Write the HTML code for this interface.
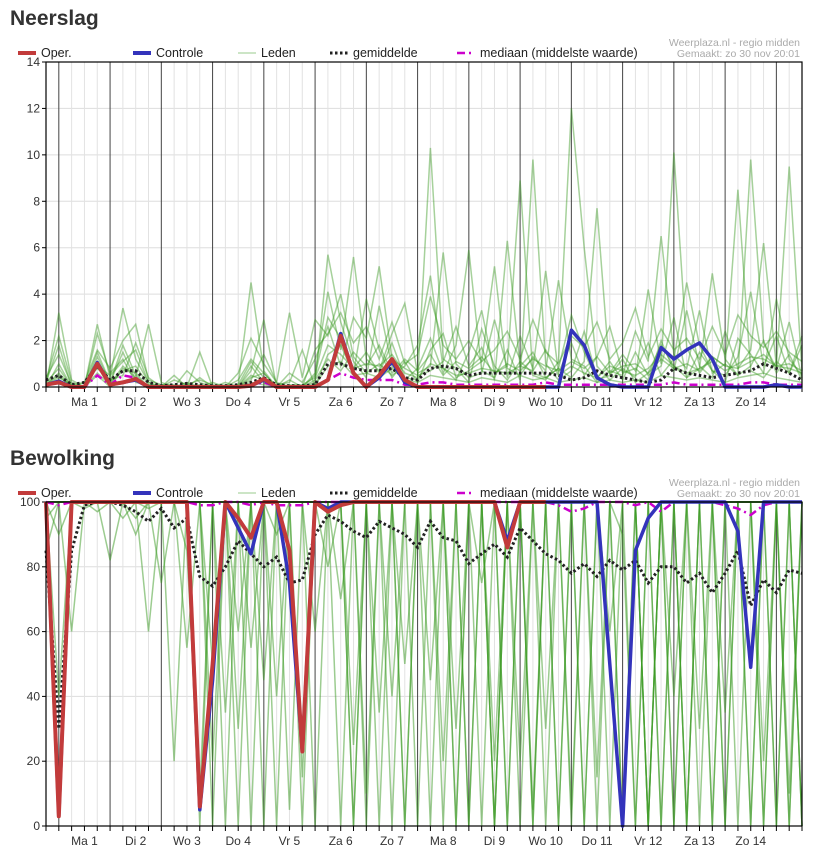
<!DOCTYPE html>
<html><head><meta charset="utf-8">
<style>
body{margin:0;background:#fff;width:817px;height:854px;overflow:hidden;font-family:"Liberation Sans",sans-serif}
h2{position:absolute;margin:0;font-size:21px;font-weight:bold;color:#333;left:10px}
svg{position:absolute;left:0}
</style></head><body>
<h2 style="top:7px">Neerslag</h2>
<h2 style="top:447px">Bewolking</h2>
<svg id="c1" width="817" height="430" style="top:0"></svg>
<svg id="c2" width="817" height="420" style="top:434px"></svg>
<script>
const dayLabels=["Ma 1","Di 2","Wo 3","Do 4","Vr 5","Za 6","Zo 7","Ma 8","Di 9","Wo 10","Do 11","Vr 12","Za 13","Zo 14"];
const rainTicks=[0,2,4,6,8,10,12,14];
const cloudTicks=[0,20,40,60,80,100];
const rainOper=[0.1,0.2,0,0,1.0,0.1,0.2,0.35,0,0,0,0,0,0,0,0,0.05,0.35,0,0,0,0,0.3,2.2,0.6,0,0.5,1.2,0.3,0,0,0,0,0,0,0,0,0,0,0];
const rainCtrl=[0.1,0.25,0,0,1.05,0.1,0.2,0.3,0,0,0,0,0,0,0,0,0.05,0.3,0,0,0,0,0.3,2.3,0.6,0,0.4,1.1,0.2,0,0,0,0,0,0,0,0,0,0,0,0,2.45,1.8,0.4,0.1,0,0,0,1.7,1.2,1.6,1.9,1.2,0,0,0,0,0.1,0,0];
const rainMean=[0.3,0.5,0.1,0.2,0.9,0.3,0.7,0.7,0.2,0.05,0.1,0.15,0.1,0.05,0.05,0.1,0.2,0.4,0.1,0.05,0.05,0.1,1.0,1.0,0.8,0.7,0.7,0.8,0.4,0.3,0.8,0.9,0.8,0.5,0.6,0.6,0.6,0.6,0.6,0.6,0.5,0.3,0.4,0.7,0.5,0.4,0.3,0.2,0.3,0.8,0.6,0.5,0.4,0.5,0.6,0.7,1.0,0.8,0.6,0.3];
const rainMedian=[0.1,0.2,0,0,0.5,0.1,0.5,0.4,0,0,0,0,0,0,0,0,0.1,0.2,0,0,0,0,0.3,0.6,0.4,0.3,0.3,0.3,0.1,0.1,0.2,0.2,0.1,0.1,0.1,0.1,0.1,0.1,0.1,0.2,0.1,0.1,0.1,0.1,0.1,0.1,0.1,0.1,0.1,0.2,0.1,0.1,0.1,0.1,0.1,0.2,0.2,0.1,0.1,0.1];
const rainM1=[0,3.2,0.3,0,1.5,0.2,1.8,0.5,0,0,0,0,0,0.2,0,0.3,1.2,0.6,0,0,0,0.5,3.0,2.1,0.8,1.5,0.6,1.9,0.4,0.3,10.3,1.2,0.8,0.2,2.5,0.9,0.3,1.1,0.6,0.4,0.8,3.1,1.5,0.3,0.5,1.2,0.2,0.6,1.8,0.9,0.4,1.5,0.7,0.2,2.1,1.4,0.6,3.8,1.2,0.5];
const rainM2=[0.2,1.8,0,0,2.7,0.4,3.4,1.2,0.2,0,0.5,0,1.5,0,0.1,0,0.3,1.4,0.2,0,0,0.2,5.7,2.8,1.1,0.4,3.5,0.9,0.3,0.8,2.1,0.6,1.8,5.9,0.7,0.4,1.6,0.3,9.8,1.0,0.3,0.7,2.4,0.4,1.1,0.3,1.5,0.5,0.9,3.0,0.4,0.8,4.9,1.2,0.5,0.9,2.0,0.6,1.4,0.3];
const rainM3=[0.1,0.5,0,0.2,1.6,0.8,2.0,2.7,0.3,0.1,0,0.2,0,0,0,0.1,4.5,0.7,0,0.3,0,0.6,4.1,1.6,5.6,1.2,0.7,2.3,3.6,0.6,0.9,5.8,1.0,0.4,0.6,2.9,0.8,0.5,1.3,0.7,4.6,1.2,0.9,0.2,0.7,0.5,2.4,1.1,6.5,1.4,0.8,3.3,0.6,1.0,0.5,9.8,1.9,0.8,2.8,0.4];
const rainM4=[0.3,2.2,0.2,0,0.6,0.1,0.9,0.4,2.7,0.2,0,0.1,0.3,0.1,0,0.6,2.1,1.0,0.2,3.2,0.4,2.9,2.2,4.0,1.3,0.6,1.0,0.5,0.9,1.8,4.8,0.8,0.3,1.5,3.3,0.6,0.9,8.9,0.5,0.3,1.1,12.0,6.0,0.9,0.3,0.8,0.4,4.2,1.0,10.1,1.7,0.6,1.3,0.9,8.5,0.7,0.4,1.1,0.6,2.2];
const rainM5=[0,1.0,0,0,2.3,0.6,1.2,0.2,0.1,0,0.3,0.1,0,0,0.2,0,0.9,0.2,0.1,0.2,1.6,0,1.4,1.8,0.6,3.8,1.6,0.4,1.1,0.2,1.6,2.3,0.4,0.7,1.1,5.2,0.4,2.2,0.8,5.0,0.6,1.9,0.5,1.3,2.6,0.6,0.8,0.3,2.0,0.7,3.3,0.9,0.4,2.4,0.8,1.6,6.2,0.9,9.5,0.7];
const rainM6=[0.1,0.4,0.1,0.2,0.8,0.3,0.5,1.9,0.4,0,0,0.7,0.2,0,0,0.1,1.1,0.4,0,0.6,0.2,1.2,2.6,0.9,3.0,2.1,5.2,1.2,0.8,0.5,0.7,1.1,2.6,0.9,1.7,0.3,6.3,0.9,1.5,0.4,0.8,0.4,1.1,7.7,0.6,1.4,0.7,1.9,0.5,1.2,4.5,1.8,0.7,0.5,1.3,4.1,0.9,2.2,0.6,1.8];
const rainM7=[0.2,0.8,0,0,1.1,0.2,1.5,0.3,0,0.1,0.1,0,0.1,0,0,0,0.5,0.3,0,0.1,0.1,0.4,1.8,1.4,0.8,1.0,0.9,1.4,0.6,0.4,1.0,0.8,0.5,0.6,0.8,0.7,0.6,0.9,0.7,1.6,0.5,0.9,0.6,0.4,0.9,0.7,0.5,0.8,1.4,0.9,0.6,0.8,1.1,0.7,1.0,1.3,1.2,0.9,0.8,0.6];
const rainM8=[0,0.3,0,0,0.5,0,0.8,0.6,0,0,0,0,0,0,0,0,0.2,0.1,0,0,0,0.1,0.9,1.1,0.5,0.6,0.4,0.8,0.3,0.2,0.5,0.4,0.3,0.2,0.4,0.3,0.2,0.5,0.3,0.4,0.2,0.3,0.4,0.2,0.3,0.2,0.3,0.2,0.5,0.4,0.3,0.4,0.3,0.2,0.4,0.5,0.6,0.4,0.3,0.2];
const rainM9=[0.4,1.4,0.1,0,0.9,0.5,1.1,1.6,0.2,0,0,0,0.4,0,0,0,0.7,2.9,0,0,0,1.6,2.3,3.2,1.9,2.6,1.2,2.8,1.0,1.4,3.9,1.8,1.2,2.0,1.1,1.6,2.4,1.2,2.9,1.5,1.0,2.2,1.7,2.8,1.2,1.9,3.4,1.3,2.5,1.6,2.1,1.2,2.6,1.4,3.1,2.2,1.7,2.4,1.5,1.1];
const rainM10=[0.1,0.6,0,0,1.3,0.2,0.7,0.9,0.1,0,0,0,0,0,0,0,0.4,0.6,0,0,0,0.3,1.2,0.7,1.5,0.9,1.8,0.6,1.2,0.7,1.4,0.5,1.1,0.8,1.3,0.6,1.0,0.7,1.2,0.9,0.7,1.1,0.8,1.3,0.6,0.9,1.0,0.6,1.2,0.8,1.0,0.7,1.3,0.9,0.8,1.1,1.4,0.9,1.0,0.7];
const cloudOper=[100,3,100,100,100,100,100,100,100,100,100,100,6,50,100,95,89,100,100,85,23,100,97,99,100,100,100,100,100,100,100,100,100,100,100,100,86,100,100,100];
const cloudCtrl=[100,3,100,100,100,100,100,100,100,100,100,100,5,45,100,92,84,100,100,75,23,100,98,100,100,100,100,100,100,100,100,100,100,100,100,100,88,100,100,100,100,100,100,100,50,0,85,95,100,100,100,100,100,100,91,49,100,100,100,100];
const cloudMean=[85,30,85,99,100,100,99,97,94,98,92,95,77,74,80,88,84,80,83,75,76,90,96,94,91,89,94,92,90,86,94,89,88,81,84,87,83,92,88,84,82,78,81,77,82,79,82,75,80,80,75,78,72,78,85,68,76,72,79,78];
const cloudMedian=[100,99,100,100,100,100,100,100,100,100,100,100,99,99,100,100,99,100,99,99,99,100,100,100,100,100,100,100,100,100,100,100,100,100,100,100,100,100,100,100,99,97,98,100,100,100,99,100,97,100,100,100,100,99,98,96,99,100,100,100];
const cloudM1=[100,40,100,98,100,100,95,100,60,100,100,85,10,100,100,30,100,100,90,100,15,100,100,70,100,100,0,100,100,100,45,100,100,0,100,100,100,20,100,100,100,5,100,100,60,100,100,0,100,100,100,30,100,100,0,100,100,100,10,100];
const cloudM2=[95,100,100,100,97,100,100,90,100,100,20,100,100,0,100,100,55,100,100,5,100,100,80,100,100,10,100,100,50,100,100,0,100,100,75,100,0,100,100,30,100,100,0,100,100,90,0,100,100,40,100,100,0,100,100,100,20,100,100,0];
const cloudM3=[100,100,60,100,100,100,100,100,100,75,100,100,100,100,35,100,100,0,100,100,100,60,100,100,25,100,100,100,0,100,100,100,30,100,100,0,100,100,100,0,100,100,100,15,100,100,100,0,100,100,0,100,100,35,100,100,0,100,100,100];
const cloudM4=[100,90,100,100,100,82,100,100,100,100,100,55,100,100,100,100,0,100,100,100,100,100,100,0,100,100,100,40,100,100,100,100,100,100,0,100,100,100,5,100,0,100,100,100,100,100,100,100,0,100,100,100,100,0,100,100,100,0,100,100];
const cloudM5=[100,100,100,100,100,100,100,100,98,100,100,100,100,50,100,0,100,100,100,100,0,100,100,100,100,100,100,100,100,0,100,100,100,100,100,20,100,100,0,100,100,100,100,100,0,100,100,100,100,0,100,100,0,100,100,100,100,100,0,100];
const cloudM6=[85,100,100,100,100,100,100,100,100,100,100,100,0,100,100,100,100,100,100,100,100,100,100,100,100,100,35,100,100,100,100,100,0,100,100,100,100,100,100,100,100,100,0,100,100,100,100,0,100,100,100,100,100,100,100,0,100,100,100,100];
const cloudM7=[100,100,100,100,100,100,100,100,100,100,100,100,100,100,100,60,100,100,0,100,100,100,100,100,0,100,100,100,100,100,0,100,100,100,100,100,100,0,100,100,100,100,100,100,100,0,100,100,100,100,0,100,100,100,100,100,100,100,100,0];
const cloudM8=[100,100,100,100,100,100,100,95,100,100,100,100,100,100,100,100,100,45,100,100,100,0,100,100,100,100,100,100,0,100,100,100,100,100,100,0,100,100,100,100,100,0,100,100,100,100,100,100,100,0,100,100,100,0,100,100,100,100,100,100];
const cloudM9=[100,100,100,100,100,100,100,100,100,100,100,100,100,20,100,100,100,100,40,100,100,100,100,100,100,0,100,100,100,100,100,20,100,100,100,100,0,100,100,100,0,100,100,100,100,100,0,100,100,100,100,0,100,100,100,100,0,100,100,100];
const cloudM10=[100,100,100,100,100,100,100,100,100,100,100,100,100,100,0,100,100,100,100,100,100,100,100,100,100,100,100,0,100,100,100,100,100,0,100,100,100,100,0,100,100,100,100,100,100,0,100,100,0,100,100,100,100,100,100,0,100,100,0,100];
const cloudM11=[100,100,100,100,100,100,100,100,100,100,100,100,100,100,100,100,100,100,100,100,100,100,100,100,0,100,100,100,100,100,100,100,0,100,100,100,100,100,100,100,100,100,100,0,100,100,100,100,100,100,0,100,100,100,100,100,100,100,100,0];
const cloudM12=[100,100,100,100,100,100,100,100,100,100,100,100,100,100,100,100,100,100,100,100,100,100,100,100,100,100,100,100,100,100,100,100,100,100,100,0,100,100,100,100,100,100,100,100,100,100,100,0,100,100,100,100,100,100,100,100,100,0,100,100];

const NS="http://www.w3.org/2000/svg";
const X0=46,X1=802,N=60,STEP=(X1-X0)/(N-1);
function xs(i){return X0+i*STEP;}
function mk(p,tag,a){const e=document.createElementNS(NS,tag);for(const k in a)e.setAttribute(k,a[k]);p.appendChild(e);return e;}
function pts(arr,ys){return arr.map((v,i)=>xs(i).toFixed(1)+","+ys(v).toFixed(1)).join(" ");}

function chart(svg,top,bottom,maxV,ticks,members,mean,median,ctrl,oper,credY,op){
  const ys=v=>bottom-(v/maxV)*(bottom-top);
  ticks.forEach(t=>{
    const l=mk(svg,"line",{x1:X0,x2:X1,y1:ys(t),y2:ys(t),stroke:"#ddd","stroke-width":1});
    
    
    const tx=mk(svg,"text",{x:X0-6,y:ys(t)+4,"text-anchor":"end","font-size":12,fill:"#333"});
    tx.textContent=t;
    
    
    mk(svg,"line",{x1:X0-4,x2:X0,y1:ys(t),y2:ys(t),stroke:"#000"});
  });
  for(let i=0;i<N;i++){
    const day=(i-1)%4===0;
    const l=mk(svg,"line",{x1:xs(i),x2:xs(i),y1:top,y2:bottom,stroke:day?"#444":"#e2e2e2","stroke-width":1});
    
    
    mk(svg,"line",{x1:xs(i),x2:xs(i),y1:bottom,y2:bottom+5,stroke:"#000"});
  }
  dayLabels.forEach((d,k)=>{
    const t=mk(svg,"text",{x:xs(1+4*k)+STEP*2,y:bottom+19,"text-anchor":"middle","font-size":12,fill:"#333"});
    t.textContent=d;
    
    
  });
  members.forEach(m=>{
    const p=mk(svg,"polyline",{points:pts(m,ys),fill:"none",stroke:"#3a9a22","stroke-opacity":op,"stroke-width":1.5});
    
    
  });
  let p=mk(svg,"polyline",{points:pts(median,ys),fill:"none",stroke:"#c0c","stroke-width":2.5,"stroke-dasharray":"8,4,2,4"});
  
  
  p=mk(svg,"polyline",{points:pts(mean,ys),fill:"none",stroke:"#222","stroke-width":3,"stroke-dasharray":"2.5,2.5"});
  
  
  p=mk(svg,"polyline",{points:pts(ctrl,ys),fill:"none",stroke:"#3333bb","stroke-width":3.5,"stroke-linejoin":"round"});
  
  
  p=mk(svg,"polyline",{points:pts(oper,ys),fill:"none",stroke:"#c23b3b","stroke-width":4,"stroke-linejoin":"round"});
  
  
  mk(svg,"rect",{x:X0,y:top,width:X1-X0,height:bottom-top,fill:"none",stroke:"#000","stroke-width":1.2});
  const ly=top-9;
  const leg=[["Oper.",18,{stroke:"#c23b3b","stroke-width":4}],["Controle",133,{stroke:"#3333bb","stroke-width":4}],["Leden",238,{stroke:"#3a9a22","stroke-opacity":0.35,"stroke-width":1.5}],["gemiddelde",330,{stroke:"#222","stroke-width":3,"stroke-dasharray":"2.5,2.5"}],["mediaan (middelste waarde)",457,{stroke:"#c0c","stroke-width":2.5,"stroke-dasharray":"8,4,2,4"}]];
  leg.forEach(([n,x,st])=>{
    const g=mk(svg,"g",{});
    
    
    mk(g,"line",Object.assign({x1:x,x2:x+18,y1:ly,y2:ly},st));
    const t=mk(g,"text",{x:x+23,y:ly+4,"font-size":12.5,fill:"#222"});t.textContent=n;
  });
  const c1=mk(svg,"text",{x:800,y:credY,"text-anchor":"end","font-size":10.5,fill:"#aaa"});c1.textContent="Weerplaza.nl - regio midden";
  
  
  const c2=mk(svg,"text",{x:800,y:credY+11,"text-anchor":"end","font-size":10.5,fill:"#aaa"});c2.textContent="Gemaakt: zo 30 nov 20:01";
  
  
}
chart(document.getElementById("c1"),62,387,14,rainTicks,[rainM1,rainM2,rainM3,rainM4,rainM5,rainM6,rainM7,rainM8,rainM9,rainM10],rainMean,rainMedian,rainCtrl,rainOper,46,0.45);
chart(document.getElementById("c2"),68,392,100,cloudTicks,[cloudM1,cloudM2,cloudM3,cloudM4,cloudM5,cloudM6,cloudM7,cloudM8,cloudM9,cloudM10,cloudM11,cloudM12],cloudMean,cloudMedian,cloudCtrl,cloudOper,52,0.5);
</script>
</body></html>
